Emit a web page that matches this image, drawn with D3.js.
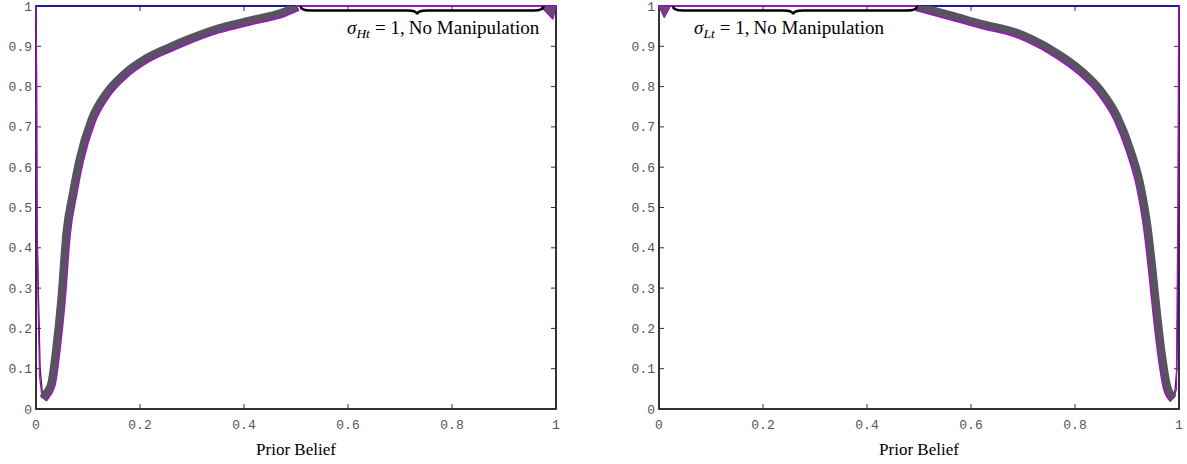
<!DOCTYPE html>
<html>
<head>
<meta charset="utf-8">
<script src="https://cdn.jsdelivr.net/npm/d3@7"></script>
<style>
  body { margin: 0; background: #fff; }
  svg { display: block; }
</style>
</head>
<body>
<div id="chart"></div>
<script>
// axis ticks
const xTicks = [0, 0.2, 0.4, 0.6, 0.8, 1];
const xTickLabels = ["0", "0.2", "0.4", "0.6", "0.8", "1"];
const yTicks = [0, 0.1, 0.2, 0.3, 0.4, 0.5, 0.6, 0.7, 0.8, 0.9, 1];
const yTickLabels = ["0", "0.1", "0.2", "0.3", "0.4", "0.5", "0.6", "0.7", "0.8", "0.9", "1"];

// left panel (sigma_Ht = 1): main band
const beliefH = [0.013, 0.02, 0.029, 0.038, 0.048, 0.058, 0.0705, 0.083, 0.106, 0.135, 0.167, 0.212, 0.256, 0.283, 0.348, 0.412, 0.475, 0.502];
const valueH  = [0.027, 0.04, 0.064, 0.146, 0.27, 0.437, 0.536, 0.618, 0.717, 0.784, 0.829, 0.871, 0.898, 0.913, 0.944, 0.965, 0.985, 1.0];
// thin curves near belief 0
const edgePurpleH = [[0, 1], [0.001, 0.84], [0.002, 0.47], [0.004, 0.27], [0.007, 0.08], [0.012, 0.027]];
const edgeDarkH   = [[0, 1], [0.001, 0.82], [0.002, 0.45], [0.0045, 0.3], [0.008, 0.1], [0.013, 0.03]];
const flatH = [[0.5, 1], [0.97, 1]];
const dipH  = [[0.97, 1], [0.994, 0.968], [1, 1]];
const braceH = [0.509, 0.733, 0.976];

// right panel (sigma_Lt = 1): main band
const beliefL = [0.496, 0.56, 0.624, 0.688, 0.714, 0.766, 0.811, 0.85, 0.882, 0.907, 0.927, 0.94, 0.949, 0.959, 0.969, 0.978, 0.99];
const valueL  = [1.0, 0.978, 0.955, 0.934, 0.92, 0.883, 0.841, 0.79, 0.725, 0.643, 0.551, 0.452, 0.352, 0.228, 0.122, 0.055, 0.027];
const edgePurpleL = [[1, 1], [0.999, 0.85], [0.998, 0.5], [0.996, 0.2], [0.995, 0.05], [0.99, 0.027]];
const edgeDarkL   = [[1, 1], [1, 0.85], [0.999, 0.62], [0.998, 0.3], [0.996, 0.1], [0.991, 0.03]];
const flatL = [[0.022, 1], [0.496, 1]];
const dipL  = [[0, 1], [0.01, 0.972], [0.022, 1]];
const braceL = [0.027, 0.258, 0.496];

const W = 1187, H = 464;
const svg = d3.select("#chart").append("svg")
    .attr("width", W)
    .attr("height", H);

const gray = "#5a5262", purple = "#a012c8", blue = "#1414c0";

function drawPanel(opts) {
    const x = d3.scaleLinear().domain([0, 1]).range([opts.left, opts.right]);
    const y = d3.scaleLinear().domain([0, 1]).range([409, 6]);
    const g = svg.append("g");

    const clipId = "clip-" + opts.id;
    svg.append("clipPath").attr("id", clipId)
        .append("rect")
        .attr("x", x(0)).attr("y", y(1))
        .attr("width", x(1) - x(0)).attr("height", y(0) - y(1));

    // frame
    g.append("rect")
        .attr("x", x(0)).attr("y", y(1))
        .attr("width", x(1) - x(0)).attr("height", y(0) - y(1))
        .attr("fill", "none").attr("stroke", "#000").attr("stroke-width", 1.6);

    // ticks, all four sides pointing in
    const tk = g.append("g").attr("stroke", "#333").attr("stroke-width", 1);
    xTicks.forEach(t => {
        tk.append("line").attr("x1", x(t)).attr("x2", x(t)).attr("y1", y(0)).attr("y2", y(0) - 5);
        tk.append("line").attr("x1", x(t)).attr("x2", x(t)).attr("y1", y(1)).attr("y2", y(1) + 5);
    });
    yTicks.forEach(t => {
        tk.append("line").attr("x1", x(0)).attr("x2", x(0) + 5).attr("y1", y(t)).attr("y2", y(t));
        tk.append("line").attr("x1", x(1)).attr("x2", x(1) - 5).attr("y1", y(t)).attr("y2", y(t));
    });

    // tick labels
    const lab = g.append("g")
        .attr("font-family", "'Liberation Mono', 'DejaVu Sans Mono', monospace")
        .attr("font-size", 13)
        .attr("fill", "#555");
    xTicks.forEach((t, i) => {
        lab.append("text").attr("x", x(t)).attr("y", 429)
            .attr("text-anchor", "middle").text(xTickLabels[i]);
    });
    yTicks.forEach((t, i) => {
        lab.append("text").attr("x", x(0) - 4).attr("y", y(t)).attr("dy", "0.35em")
            .attr("text-anchor", "end").text(yTickLabels[i]);
    });

    // x label
    g.append("text")
        .attr("x", (x(0) + x(1)) / 2).attr("y", 455)
        .attr("text-anchor", "middle")
        .attr("font-family", "'Liberation Serif', 'Times New Roman', serif")
        .attr("font-size", 17)
        .text("Prior Belief");

    // constant line at 1
    g.append("line")
        .attr("x1", x(0)).attr("x2", x(1)).attr("y1", y(1)).attr("y2", y(1))
        .attr("stroke", blue).attr("stroke-width", 1.6);

    const line = d3.line().x(d => x(d[0])).y(d => y(d[1]));
    const smooth = d3.line().x(d => x(d[0])).y(d => y(d[1])).curve(d3.curveMonotoneX);

    // thin curves at the edge
    g.append("path").datum(opts.edgeDark).attr("d", line)
        .attr("fill", "none").attr("stroke", "#222").attr("stroke-width", 1.2);
    g.append("path").datum(opts.edgePurple).attr("d", line)
        .attr("fill", "none").attr("stroke", purple).attr("stroke-width", 1.4);

    // main band
    const band = opts.belief.map((b, i) => [b, opts.value[i]]);
    const bg = g.append("g").attr("clip-path", `url(#${clipId})`);
    bg.append("path").datum(band).attr("d", smooth)
        .attr("transform", `translate(${opts.shift},1.2)`)
        .attr("fill", "none").attr("stroke", purple).attr("stroke-width", 8)
        .attr("stroke-linejoin", "round");
    bg.append("path").datum(band).attr("d", smooth)
        .attr("fill", "none").attr("stroke", gray).attr("stroke-width", 7.5)
        .attr("stroke-linejoin", "round");

    // flat part along 1 and the small dip
    g.append("path").datum(opts.flat).attr("d", line)
        .attr("fill", "none").attr("stroke", purple).attr("stroke-width", 2);
    g.append("path").datum(opts.dip).attr("d", d => line(d) + "Z")
        .attr("fill", gray).attr("stroke", purple).attr("stroke-width", 1.5)
        .attr("stroke-linejoin", "round");

    // brace
    const [b0, bm, b1] = opts.brace.map(x);
    const y0 = y(1), h = 4.5, d = 4, r = 10;
    const bp = `M${b0},${y0} Q${b0},${y0 + h} ${b0 + r},${y0 + h} L${bm - r},${y0 + h} ` +
        `Q${bm},${y0 + h} ${bm},${y0 + h + d} Q${bm},${y0 + h} ${bm + r},${y0 + h} ` +
        `L${b1 - r},${y0 + h} Q${b1},${y0 + h} ${b1},${y0}`;
    g.append("path").attr("d", bp)
        .attr("fill", "none").attr("stroke", "#000").attr("stroke-width", 2.6);

    // annotation
    const t = g.append("text")
        .attr("x", opts.noteX).attr("y", 34)
        .attr("font-family", "'Liberation Serif', 'Times New Roman', serif")
        .attr("font-size", 19);
    t.append("tspan").attr("font-style", "italic").text("σ");
    t.append("tspan").attr("font-style", "italic").attr("font-size", 13.5).attr("dy", 4).text(opts.sub);
    t.append("tspan").attr("dy", -4).attr("dx", 5).text("=");
    t.append("tspan").attr("dx", 5).text("1,");
    t.append("tspan").attr("dx", 4).text("No Manipulation");
}

drawPanel({
    id: "high", left: 36, right: 556, shift: 0.8,
    belief: beliefH, value: valueH,
    edgePurple: edgePurpleH, edgeDark: edgeDarkH,
    flat: flatH, dip: dipH, brace: braceH,
    noteX: 347, sub: "Ht"
});
drawPanel({
    id: "low", left: 659, right: 1179, shift: -0.8,
    belief: beliefL, value: valueL,
    edgePurple: edgePurpleL, edgeDark: edgeDarkL,
    flat: flatL, dip: dipL, brace: braceL,
    noteX: 694, sub: "Lt"
});
</script>
</body>
</html>
